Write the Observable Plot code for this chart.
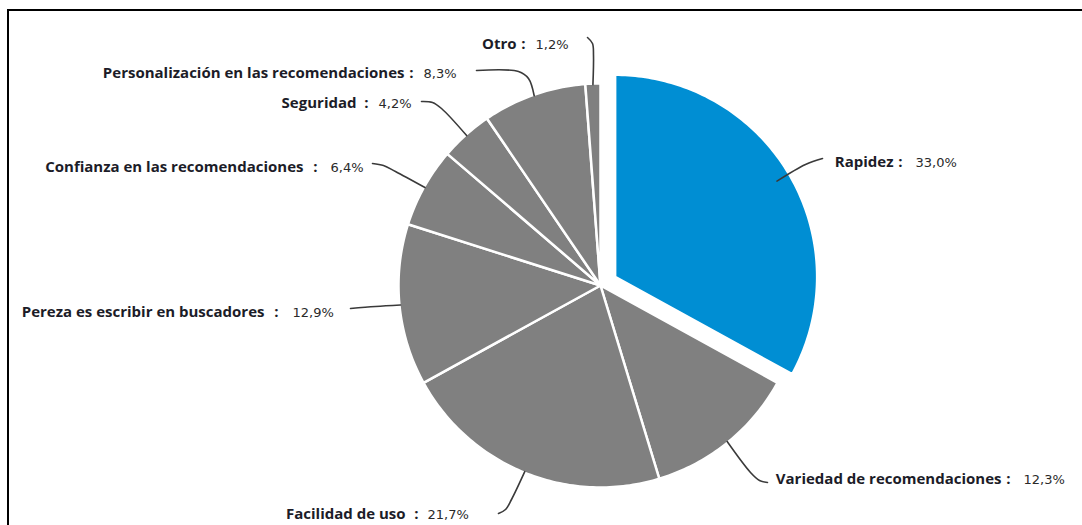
<!DOCTYPE html>
<html><head><meta charset="utf-8">
<script src="https://cdn.jsdelivr.net/npm/d3@7"></script>
<script src="https://cdn.jsdelivr.net/npm/@observablehq/plot@0.6"></script>
<style>
body{margin:0;background:#fff}
#chart{position:relative;width:1082px;height:525px;overflow:hidden}
#frame{position:absolute;left:7px;top:9px;right:-10px;bottom:-10px;border-top:2px solid #000;border-left:2px solid #000;pointer-events:none}
</style>
</head><body><div id="chart"><div id="frame"></div></div>
<script>
// ---- data ----
const categories = ["Rapidez","Variedad de recomendaciones","Facilidad de uso","Pereza es escribir en buscadores","Confianza en las recomendaciones","Seguridad","Personalización en las recomendaciones","Otro"];
const values = [33.0, 12.3, 21.7, 12.9, 6.4, 4.2, 8.3, 1.2];
const valueLabels = ["33,0%","12,3%","21,7%","12,9%","6,4%","4,2%","8,3%","1,2%"];
const highlighted = ["Rapidez"];

// ---- layout (pixels) ----
const W = 1082, H = 525;
const cx = 600, cy = 285, R = 202, explode = 17;
const labelPos = { // colon end x, centre y, value start x, gap before colon
  "Rapidez": [902, 162, 915, 9],
  "Variedad de recomendaciones": [1010, 479, 1023, 9],
  "Facilidad de uso": [418, 514, 427, 13],
  "Pereza es escribir en buscadores": [278, 312, 292, 14],
  "Confianza en las recomendaciones": [317, 167, 330, 14],
  "Seguridad": [368, 103, 378, 12],
  "Personalización en las recomendaciones": [413, 73, 423, 9],
  "Otro": [525, 44, 535, 9]
};
const leaderTail = { // bend points after the slice edge, ending near the label
  "Rapidez": [[805,164],[822,158]],
  "Variedad de recomendaciones": [[750,472],[759,480],[767,482]],
  "Facilidad de uso": [[511,499],[505,509],[498,513]],
  "Pereza es escribir en buscadores": [[375,306],[350,308]],
  "Confianza en las recomendaciones": [[395,171],[383,165],[372,163]],
  "Seguridad": [[441,108],[432,102],[421,101]],
  "Personalización en las recomendaciones": [[528,78],[518,71],[476,70]],
  "Otro": [[593,55],[592,43],[587,37]]
};
const gray = "#808080", blue = "#008ed3";

// ---- geometry from data ----
const arcs = d3.pie().sort(null).value(d => d)(values);
const wedgeRows = [], leaderRows = [];
arcs.forEach((a, i) => {
  const cat = categories[i];
  const mid = (a.startAngle + a.endAngle) / 2;
  const ex = highlighted.includes(cat) ? explode : 0;
  const ox = cx + ex * Math.sin(mid), oy = cy - ex * Math.cos(mid);
  wedgeRows.push({cat, x: ox, y: oy});
  const n = Math.max(2, Math.ceil((a.endAngle - a.startAngle) * 60));
  for (let k = 0; k <= n; k++) {
    const t = a.startAngle + (a.endAngle - a.startAngle) * k / n;
    wedgeRows.push({cat, x: ox + R * Math.sin(t), y: oy - R * Math.cos(t)});
  }
  wedgeRows.push({cat, x: ox, y: oy});
  const rr = highlighted.includes(cat) ? R - 14 : R - 1;
  leaderRows.push({cat, x: ox + rr * Math.sin(mid), y: oy - rr * Math.cos(mid)});
  leaderTail[cat].forEach(p => leaderRows.push({cat, x: p[0], y: p[1]}));
});
const labelRows = categories.map((c, i) => ({
  cat: c, name: c, val: valueLabels[i],
  x: labelPos[c][0], y: labelPos[c][1], vx: labelPos[c][2], gap: labelPos[c][3]
}));

const nameFont = "'Open Sans', sans-serif";
const plot = Plot.plot({
  width: W, height: H, margin: 0,
  style: {background: "transparent", overflow: "visible"},
  x: {domain: [0, W], range: [0, W], axis: null},
  y: {domain: [0, H], range: [0, H], axis: null},
  color: {domain: categories, range: categories.map(c => highlighted.includes(c) ? blue : gray)},
  marks: [
    Plot.line(wedgeRows, {x: "x", y: "y", z: "cat", fill: "cat", stroke: "white", strokeWidth: 2.5, strokeLinejoin: "round", curve: "linear"}),
    Plot.line(leaderRows, {x: "x", y: "y", z: "cat", stroke: "#3a3a3a", strokeWidth: 1.6, curve: "catmull-rom"}),
    Plot.text(labelRows, {x: d => d.x - d.gap, y: "y", text: "name", textAnchor: "end", fontWeight: "bold", fontSize: 15, fontFamily: nameFont, fill: "#1c1c28"}),
    Plot.text(labelRows, {x: "x", y: "y", text: () => ":", textAnchor: "end", fontWeight: "bold", fontSize: 15, fontFamily: nameFont, fill: "#1c1c28"}),
    Plot.text(labelRows, {x: "vx", y: "y", text: "val", textAnchor: "start", fontSize: 13, fontFamily: "'DejaVu Sans', sans-serif", fill: "#2a2a2a"})
  ]
});
plot.style.position = "absolute";
plot.style.left = "0"; plot.style.top = "0";
document.getElementById("chart").prepend(plot);
</script>
</body></html>
